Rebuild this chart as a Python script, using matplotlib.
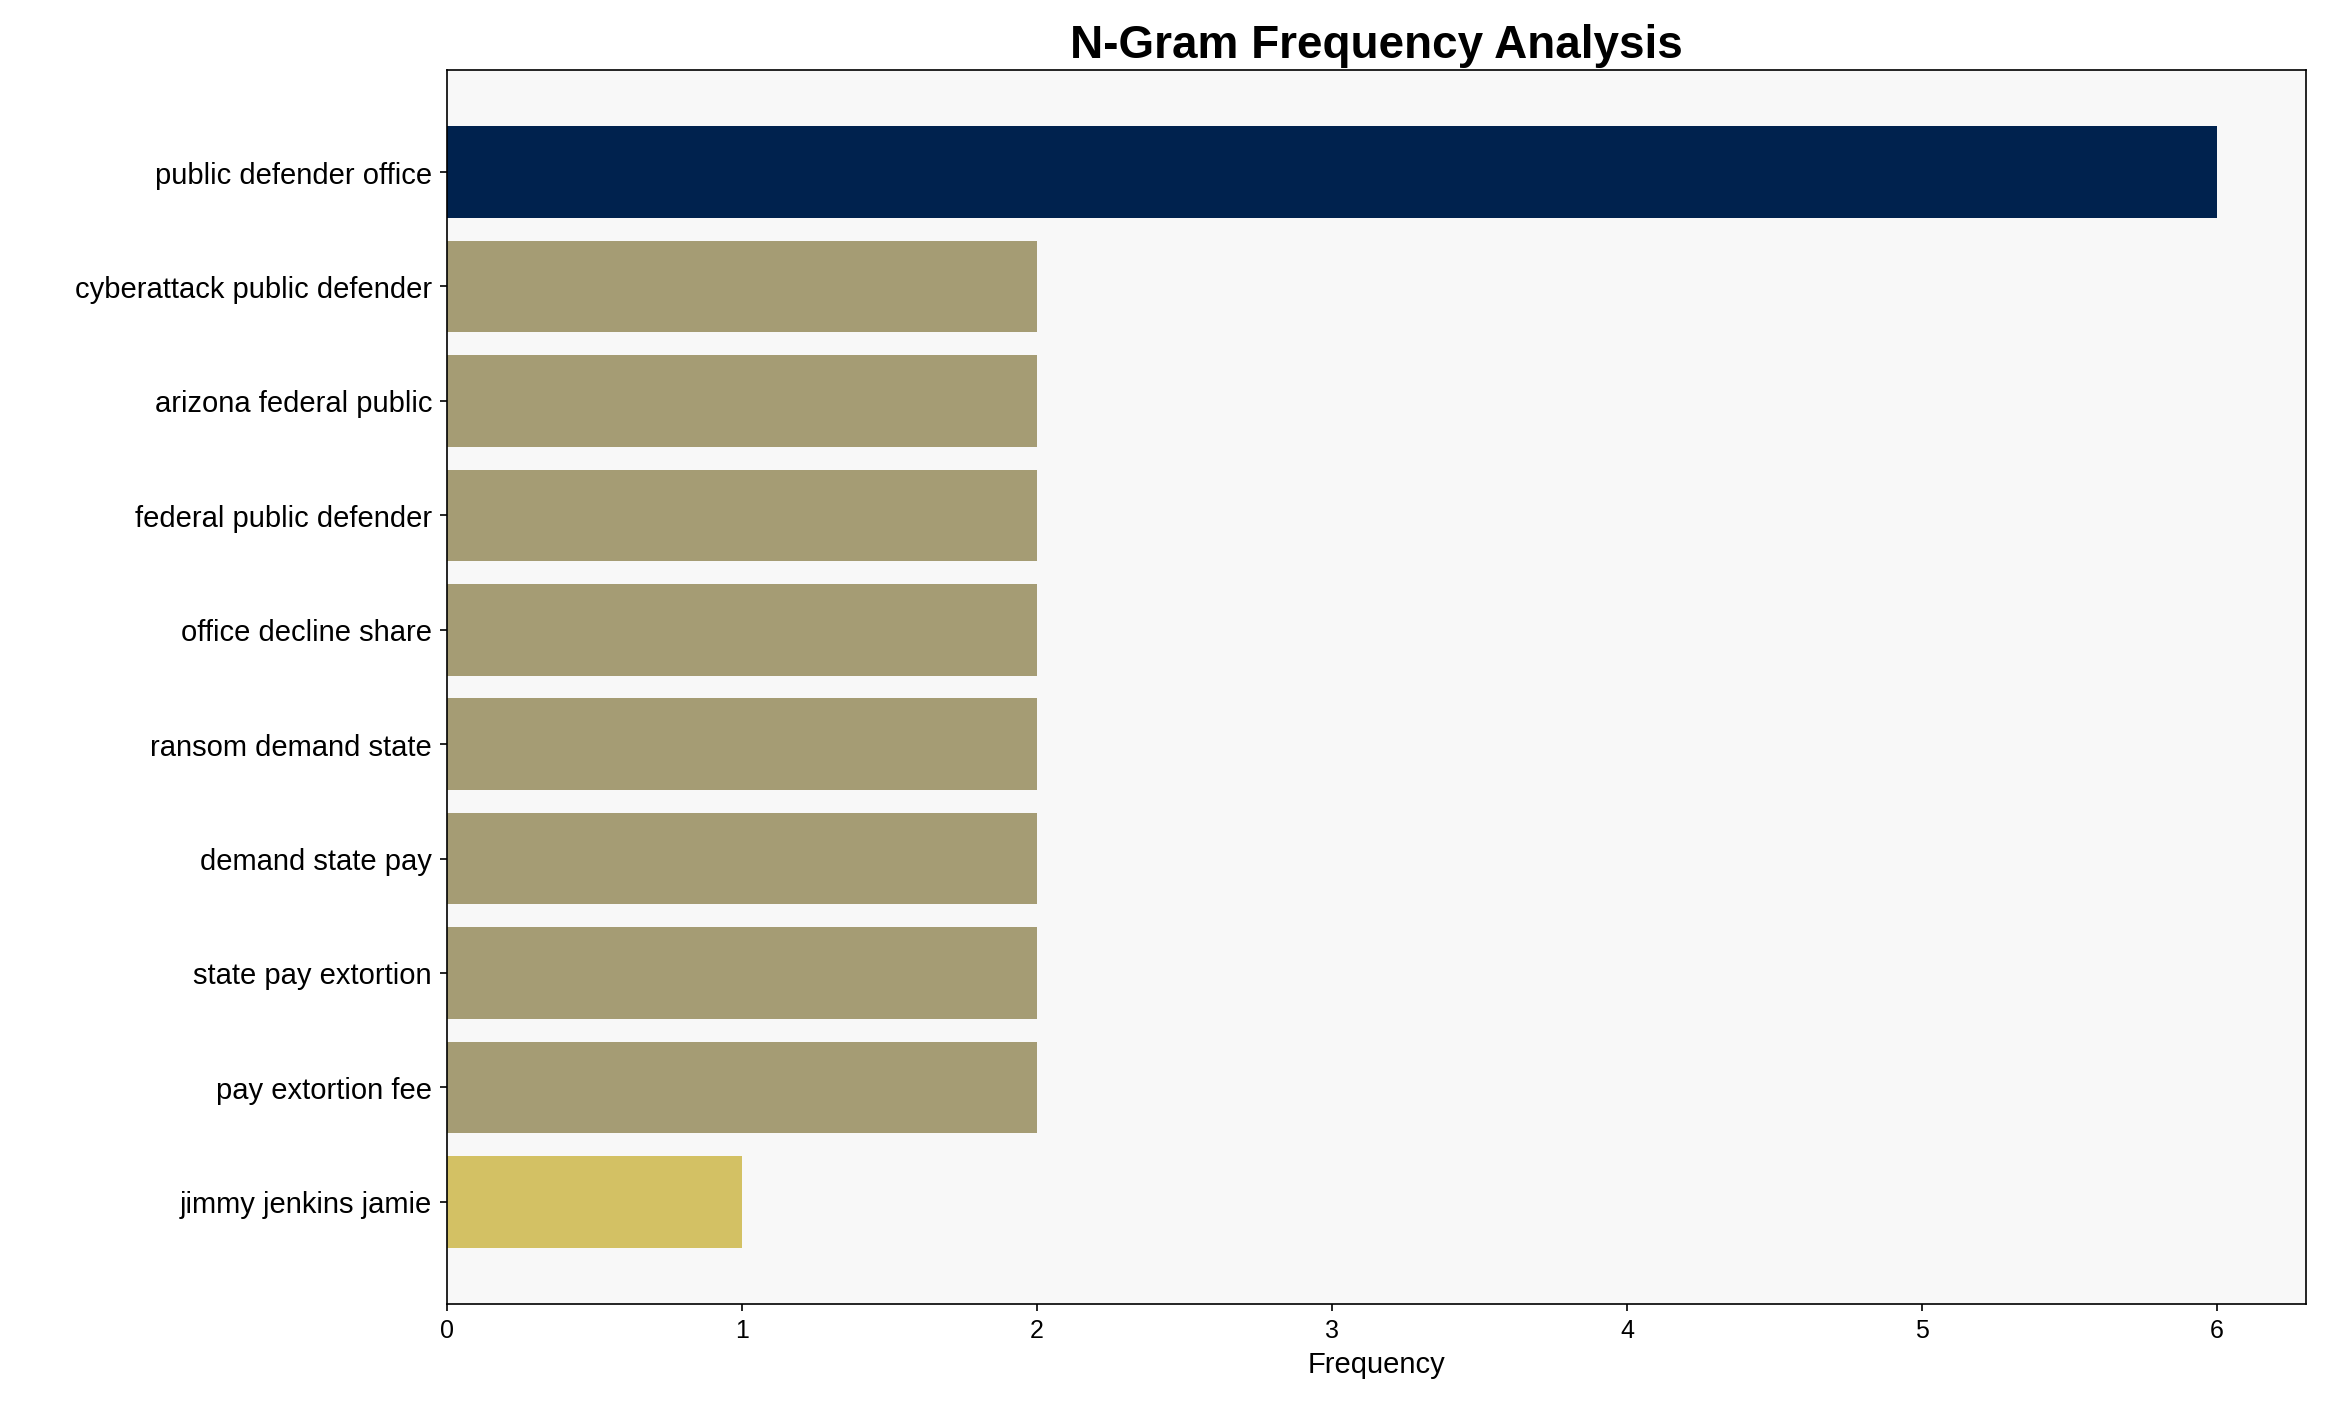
import matplotlib
matplotlib.use("Agg")
import matplotlib.pyplot as plt

plt.rcParams["font.family"] = ["Liberation Sans", "DejaVu Sans"]

ngrams = [
    "public defender office",
    "cyberattack public defender",
    "arizona federal public",
    "federal public defender",
    "office decline share",
    "ransom demand state",
    "demand state pay",
    "state pay extortion",
    "pay extortion fee",
    "jimmy jenkins jamie",
]
counts = [6, 2, 2, 2, 2, 2, 2, 2, 2, 1]
colors = ["#00224e"] + ["#a59c74"] * 8 + ["#d3c164"]

fig, ax = plt.subplots(figsize=(15.51, 9.43), dpi=150)
ax.set_facecolor("#f8f8f8")
ax.barh(ngrams, counts, color=colors, height=0.8)
ax.invert_yaxis()
ax.set_xlim(0, 6.3)
ax.set_xlabel("Frequency", fontsize=14)
ax.set_title("N-Gram Frequency Analysis", fontsize=22, fontweight="bold")
ax.tick_params(axis="y", labelsize=14)
ax.tick_params(axis="x", labelsize=12)
fig.subplots_adjust(left=0.192, right=0.991, top=0.95, bottom=0.078)
fig.savefig("out.png", dpi=150)
